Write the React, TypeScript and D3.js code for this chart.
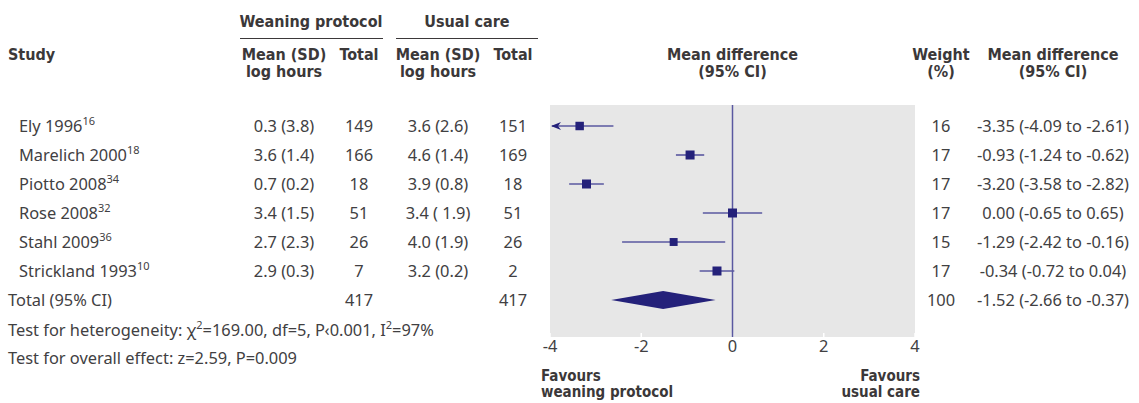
import React from "react";
import * as d3 from "d3";

const studies = ["Ely 1996", "Marelich 2000", "Piotto 2008", "Rose 2008", "Stahl 2009", "Strickland 1993"];
const refs = ["16", "18", "34", "32", "36", "10"];
const weanMeanSD = ["0.3 (3.8)", "3.6 (1.4)", "0.7 (0.2)", "3.4 (1.5)", "2.7 (2.3)", "2.9 (0.3)"];
const weanN = [149, 166, 18, 51, 26, 7];
const usualMeanSD = ["3.6 (2.6)", "4.6 (1.4)", "3.9 (0.8)", "3.4 ( 1.9)", "4.0 (1.9)", "3.2 (0.2)"];
const usualN = [151, 169, 18, 51, 26, 2];
const md = [-3.35, -0.93, -3.2, 0.0, -1.29, -0.34];
const lo = [-4.09, -1.24, -3.58, -0.65, -2.42, -0.72];
const hi = [-2.61, -0.62, -2.82, 0.65, -0.16, 0.04];
const weight = [16, 17, 17, 17, 15, 17];
const total = { md: -1.52, lo: -2.66, hi: -0.37, weight: 100, nW: 417, nU: 417 };
const xDomain = [-4, 4];

const W = 1139;
const H = 403;
const BODY = "'Noto Sans', 'Open Sans', sans-serif";
const BOLD = "'DejaVu Sans', sans-serif";
const TXT = "#414042";
const HEAD = "#3b3839";
const NAVY = "#24217a";
const LINE = "#5a58a0";
const PANEL = "#e7e7e7";

const f2 = (v: number) => v.toFixed(2);

export default function App() {
  const x = d3.scaleLinear().domain(xDomain).range([550, 915]);
  const rows = [...studies, "Total (95% CI)"];
  const y = d3.scalePoint<string>().domain(rows).range([126, 300]);
  const side = d3.scaleLinear().domain([0, 17]).range([0, 9]);
  const panelTop = 105;
  const panelBottom = 337;
  const fs = 16.4;

  const colWeanMean = 284;
  const colWeanN = 359;
  const colUsualMean = 438;
  const colUsualN = 513;
  const colWeight = 941;
  const colMD = 1053;

  const bodyText = { fontFamily: BODY, fontSize: fs, fill: TXT } as const;
  const headText = { fontFamily: BOLD, fontSize: 16, fontWeight: 700, fill: HEAD, fontStretch: "condensed" } as const;
  const favText = { ...headText, fontSize: 15 } as const;

  const clampX = (v: number) => x(Math.max(xDomain[0], Math.min(xDomain[1], v)));

  return (
    <svg width={W} height={H} style={{ position: "absolute", left: 0, top: 0 }}>
      <rect width={W} height={H} fill="#fff" />
      {/* headers */}
      <g style={headText as any}>
        <text x={311} y={27} textAnchor="middle">Weaning protocol</text>
        <text x={467} y={27} textAnchor="middle">Usual care</text>
        <line x1={240} x2={383} y1={38.5} y2={38.5} stroke={HEAD} strokeWidth={1.2} />
        <line x1={396} x2={538} y1={38.5} y2={38.5} stroke={HEAD} strokeWidth={1.2} />
        <text x={8} y={60}>Study</text>
        <text x={colWeanMean} y={60} textAnchor="middle">Mean (SD)</text>
        <text x={colWeanMean} y={77} textAnchor="middle">log hours</text>
        <text x={colWeanN} y={60} textAnchor="middle">Total</text>
        <text x={colUsualMean} y={60} textAnchor="middle">Mean (SD)</text>
        <text x={colUsualMean} y={77} textAnchor="middle">log hours</text>
        <text x={colUsualN} y={60} textAnchor="middle">Total</text>
        <text x={x(0)} y={60} textAnchor="middle">Mean difference</text>
        <text x={x(0)} y={77} textAnchor="middle">(95% CI)</text>
        <text x={colWeight} y={60} textAnchor="middle">Weight</text>
        <text x={colWeight} y={77} textAnchor="middle">(%)</text>
        <text x={colMD} y={60} textAnchor="middle">Mean difference</text>
        <text x={colMD} y={77} textAnchor="middle">(95% CI)</text>
      </g>

      {/* panel */}
      <rect x={x(xDomain[0])} y={panelTop} width={x(xDomain[1]) - x(xDomain[0])} height={panelBottom - panelTop} fill={PANEL} />
      {x.ticks(4).map((t) => (
        <g key={t}>
          <line x1={x(t)} x2={x(t)} y1={panelBottom - 4} y2={panelBottom} stroke="#fff" strokeWidth={1.5} />
          <text x={x(t)} y={352} textAnchor="middle" style={bodyText as any}>{String(t)}</text>
        </g>
      ))}
      <line x1={x(0)} x2={x(0)} y1={panelTop} y2={panelBottom} stroke={LINE} strokeWidth={1.5} />

      {/* studies */}
      {studies.map((s, i) => {
        const yy = y(s)!;
        const sz = side(weight[i]);
        const arrowLeft = lo[i] < xDomain[0];
        return (
          <g key={s}>
            <text x={19} y={yy} dy="0.35em" style={bodyText as any}>
              {s}
              <tspan fontSize={11} dy={-7}>{refs[i]}</tspan>
            </text>
            <text x={colWeanMean} y={yy} dy="0.35em" textAnchor="middle" style={bodyText as any}>{weanMeanSD[i]}</text>
            <text x={colWeanN} y={yy} dy="0.35em" textAnchor="middle" style={bodyText as any}>{weanN[i]}</text>
            <text x={colUsualMean} y={yy} dy="0.35em" textAnchor="middle" style={bodyText as any}>{usualMeanSD[i]}</text>
            <text x={colUsualN} y={yy} dy="0.35em" textAnchor="middle" style={bodyText as any}>{usualN[i]}</text>
            <line x1={clampX(lo[i]) + (arrowLeft ? 2 : 0)} x2={clampX(hi[i])} y1={yy} y2={yy} stroke={LINE} strokeWidth={1.6} />
            {arrowLeft && (
              <path
                d={`M${x(xDomain[0]) + 1},${yy} L${x(xDomain[0]) + 11},${yy - 4} L${x(xDomain[0]) + 8},${yy} L${x(xDomain[0]) + 11},${yy + 4} Z`}
                fill={NAVY}
              />
            )}
            <rect x={x(md[i]) - sz / 2} y={yy - sz / 2} width={sz} height={sz} fill={NAVY} />
            <text x={colWeight} y={yy} dy="0.35em" textAnchor="middle" style={bodyText as any}>{weight[i]}</text>
            <text x={colMD} y={yy} dy="0.35em" textAnchor="middle" style={bodyText as any}>
              {`${f2(md[i])} (${f2(lo[i])} to ${f2(hi[i])})`}
            </text>
          </g>
        );
      })}

      {/* total */}
      {(() => {
        const yy = y("Total (95% CI)")!;
        const d = `M${x(total.lo)},${yy} L${x(total.md)},${yy - 9} L${x(total.hi)},${yy} L${x(total.md)},${yy + 9} Z`;
        return (
          <g>
            <text x={8} y={yy} dy="0.35em" style={bodyText as any}>Total (95% CI)</text>
            <text x={colWeanN} y={yy} dy="0.35em" textAnchor="middle" style={bodyText as any}>{total.nW}</text>
            <text x={colUsualN} y={yy} dy="0.35em" textAnchor="middle" style={bodyText as any}>{total.nU}</text>
            <path d={d} fill={NAVY} />
            <text x={colWeight} y={yy} dy="0.35em" textAnchor="middle" style={bodyText as any}>{total.weight}</text>
            <text x={colMD} y={yy} dy="0.35em" textAnchor="middle" style={bodyText as any}>
              {`${f2(total.md)} (${f2(total.lo)} to ${f2(total.hi)})`}
            </text>
          </g>
        );
      })()}

      {/* tests */}
      <text x={8} y={330} dy="0.35em" style={bodyText as any}>
        Test for heterogeneity: χ<tspan fontSize={11} dy={-7}>2</tspan>
        <tspan dy={7}>=169.00, df=5, P‹0.001, I</tspan>
        <tspan fontSize={11} dy={-7}>2</tspan>
        <tspan dy={7}>=97%</tspan>
      </text>
      <text x={8} y={358} dy="0.35em" style={bodyText as any}>Test for overall effect: z=2.59, P=0.009</text>

      {/* favours */}
      <g style={favText as any}>
        <text x={541} y={381}>Favours</text>
        <text x={541} y={397}>weaning protocol</text>
        <text x={920} y={381} textAnchor="end">Favours</text>
        <text x={920} y={397} textAnchor="end">usual care</text>
      </g>
    </svg>
  );
}
